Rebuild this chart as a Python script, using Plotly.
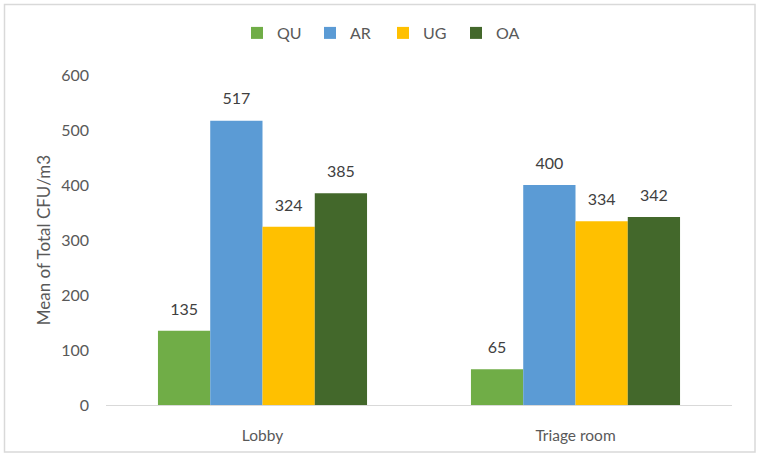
import plotly.graph_objects as go

categories = ["Lobby", "Triage room"]
series_names = ["QU", "AR", "UG", "OA"]
qu = [135, 65]
ar = [517, 400]
ug = [324, 334]
oa = [385, 342]
values = [qu, ar, ug, oa]
colors = ["#70ad47", "#5b9bd5", "#ffc000", "#43682b"]
y_ticks = [0, 100, 200, 300, 400, 500, 600]

FONT = "Lato, Open Sans, sans-serif"
TXT = "#595959"

fig = go.Figure()
for name, vals, col in zip(series_names, values, colors):
    fig.add_trace(go.Bar(
        name=name, x=categories, y=vals, marker_color=col, marker_line_width=0,
        offsetgroup=name, hoverinfo="skip",
    ))
for name, vals in zip(series_names, values):
    fig.add_trace(go.Scatter(
        x=categories, y=vals, mode="markers+text", offsetgroup=name,
        text=[str(v) for v in vals], textposition="top center",
        marker=dict(size=18, opacity=0), showlegend=False, hoverinfo="skip",
        textfont=dict(size=16, color="#404040", family=FONT), cliponaxis=False,
    ))

W, H = 759, 458
L, R, T, B = 106, 27, 75, 53
pw, ph = W - L - R, H - T - B

def px(x):
    return (x - L) / pw

def py(y):
    return (H - B - y) / ph

fig.update_layout(
    width=W, height=H,
    margin=dict(l=L, r=R, t=T, b=B),
    paper_bgcolor="white", plot_bgcolor="white",
    barmode="group", bargap=0.332, bargroupgap=0,
    scattermode="group", scattergap=0.332,
    font=dict(family=FONT, color=TXT, size=15),
    legend=dict(orientation="h", x=px(383), xanchor="center", y=py(33), yanchor="middle",
                font=dict(size=16, color=TXT), traceorder="normal",
                itemwidth=30, tracegroupgap=0, entrywidth=28),
    xaxis=dict(showline=True, linecolor="#d9d9d9", linewidth=1, ticks="",
               tickfont=dict(size=15.5, color=TXT), ticklabelstandoff=16),
    yaxis=dict(range=[0, 600], tickvals=y_ticks, showgrid=False, zeroline=False,
               showline=False, tickfont=dict(size=16, color=TXT), ticklabelstandoff=16,
               title=dict(text="Mean of Total CFU/m3", font=dict(size=17, color=TXT), standoff=6)),
    shapes=[dict(type="rect", xref="paper", yref="paper",
                 x0=px(4.5), x1=px(755), y0=py(452), y1=py(4.5),
                 line=dict(color="#d9d9d9", width=1.5), fillcolor="rgba(0,0,0,0)", layer="below")],
)

fig.write_html("out.html", config={"displayModeBar": False},
               post_script="document.body.style.margin='0';")
